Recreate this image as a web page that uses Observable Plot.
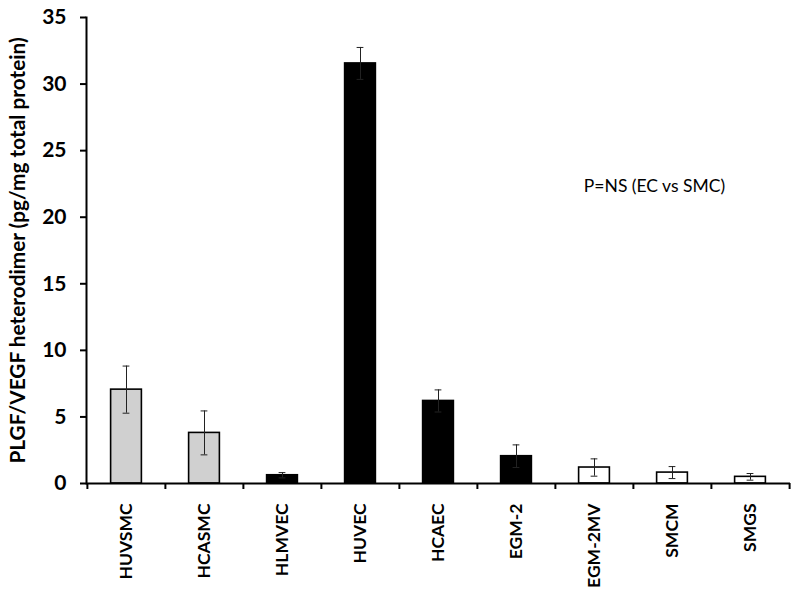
<!DOCTYPE html>
<html>
<head>
<meta charset="utf-8">
<script src="https://cdn.jsdelivr.net/npm/d3@7"></script>
<script src="https://cdn.jsdelivr.net/npm/@observablehq/plot@0.6"></script>
<style>
  body { margin: 0; background: #fff; }
  #chart svg { display: block; }
</style>
</head>
<body>
<div id="chart"></div>
<script>
const categories = ["HUVSMC", "HCASMC", "HLMVEC", "HUVEC", "HCAEC", "EGM-2", "EGM-2MV", "SMCM", "SMGS"];
const values = [7.05, 3.8, 0.62, 31.55, 6.2, 2.05, 1.2, 0.82, 0.5];
const errors = [1.77, 1.65, 0.2, 1.2, 0.83, 0.85, 0.65, 0.45, 0.25];
const fills = ["#d0d0d0", "#d0d0d0", "#000000", "#000000", "#000000", "#000000", "#ffffff", "#ffffff", "#ffffff"];
const yTicks = [0, 5, 10, 15, 20, 25, 30, 35];
const yLabel = "PLGF/VEGF heterodimer (pg/mg total protein)";
const note = "P=NS (EC vs SMC)";
const noteY = 22.3;

const data = categories.map((c, i) => ({cat: c, value: values[i], err: errors[i], fill: fills[i]}));

const W = 800, H = 600, mL = 86, mR = 10, mT = 17, mB = 117;
const bw = (W - mL - mR) / categories.length;
const barW = 31;
const capW = 7;
const font = "Lato, 'Open Sans', sans-serif";

const chart = Plot.plot({
  width: W, height: H,
  marginLeft: mL, marginRight: mR, marginTop: mT, marginBottom: mB,
  style: {fontFamily: font, color: "#000", background: "#fff"},
  x: {domain: categories, padding: 0},
  y: {domain: [0, 35]},
  marks: [
    Plot.barY(data, {x: "cat", y: "value", fill: "fill", stroke: "#000", strokeWidth: 1.6,
      insetLeft: (bw - barW) / 2, insetRight: (bw - barW) / 2}),
    Plot.ruleX(data, {x: "cat", y1: d => d.value - d.err, y2: d => d.value + d.err, stroke: "#222", strokeWidth: 1}),
    Plot.tickY(data, {x: "cat", y: d => d.value + d.err, stroke: "#222", strokeWidth: 1,
      insetLeft: (bw - capW) / 2, insetRight: (bw - capW) / 2}),
    Plot.tickY(data, {x: "cat", y: d => d.value - d.err, stroke: "#222", strokeWidth: 1,
      insetLeft: (bw - capW) / 2, insetRight: (bw - capW) / 2}),
    Plot.ruleY([0], {stroke: "#000", strokeWidth: 2}),
    Plot.frame({anchor: "left", stroke: "#000", strokeWidth: 2}),
    Plot.ruleX(categories, {x: d => d, dx: -bw / 2, y1: 0, y2: -0.45, stroke: "#000", strokeWidth: 2}),
    Plot.ruleX(categories.slice(-1), {x: d => d, dx: bw / 2, y1: 0, y2: -0.45, stroke: "#000", strokeWidth: 2}),
    Plot.axisY({ticks: yTicks, tickSize: 6, tickPadding: 14, fontSize: 21, fontWeight: "bold", label: null, strokeWidth: 2}),
    Plot.axisX({tickSize: 0, tickPadding: 20, tickRotate: -90, fontSize: 17.5, fontWeight: "bold", label: null}),
    Plot.text([yLabel], {frameAnchor: "left", textAnchor: "middle", rotate: -90, dx: -68, dy: 0, fontSize: 20.8, fontWeight: "bold"}),
    Plot.text([note], {x: () => "SMCM", y: () => noteY, dx: -18, fontSize: 17.5})
  ]
});
document.getElementById("chart").append(chart);
</script>
</body>
</html>
